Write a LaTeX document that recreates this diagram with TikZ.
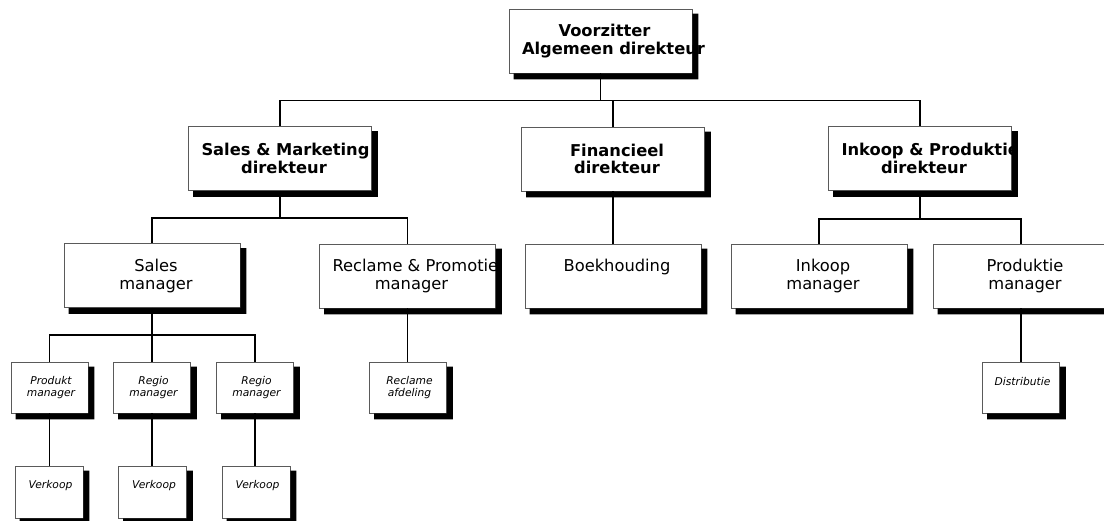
\documentclass[tikz,border=0pt]{standalone}
\usepackage{fontspec}
\setmainfont{DejaVu Sans}[BoldFont={DejaVu Sans Bold},ItalicFont={DejaVu Sans Oblique}]
\usepackage{xcolor}
\usepackage{tikz}
\definecolor{boxgray}{RGB}{90, 90, 90}
\hyphenpenalty=10000
\exhyphenpenalty=10000

\tikzset{
    textshift/.style={execute at begin node={\leftskip=#1 plus 1fil\rightskip=0pt plus 1fil}},
    orgbox/.style={draw=boxgray, fill=white, line width=0.8pt, inner ysep=0pt, inner xsep=5pt, align=flush center},
    dirbox/.style={orgbox, minimum width=183pt, minimum height=64pt, text width=173pt, textshift=8pt, font=\fontsize{16.3}{17.3}\selectfont\bfseries},
    mgrbox/.style={orgbox, minimum width=176pt, minimum height=64pt, text width=166pt, textshift=8pt, font=\fontsize{16.3}{18}\selectfont},
    unitbox/.style={orgbox, minimum width=77pt, minimum height=51pt, text width=67pt, textshift=3pt, font=\fontsize{10.7}{12.4}\selectfont\itshape},
    salesbox/.style={orgbox, minimum width=68pt, minimum height=52pt, text width=58pt, textshift=3pt, text depth=14.5pt, font=\fontsize{10.7}{12.4}\selectfont\itshape},
    conn/.style={line width=1.2pt}
}

\begin{document}
\begin{tikzpicture}[x=1pt, y=-1pt]
    \useasboundingbox (0,0) rectangle (1104,520);

    \node[dirbox] (top) at (600.5,41) {Voorzitter\\\mbox{Algemeen direkteur}};
    \node[dirbox] (sm) at (280,158.5) {\mbox{Sales \& Marketing}\\direkteur};
    \node[dirbox] (fin) at (613,159) {Financieel\\direkteur};
    \node[dirbox] (ip) at (920,158.5) {\mbox{Inkoop \& Produktie}\\direkteur};

    \node[mgrbox] (sales) at (152,275.5) {Sales\\manager};
    \node[mgrbox] (recl) at (407.5,276) {\mbox{Reclame \& Promotie}\\manager};
    \node[mgrbox, text depth=22pt] (boek) at (613,276) {Boekhouding};
    \node[mgrbox] (ink) at (819,276) {Inkoop\\manager};
    \node[mgrbox] (prod) at (1021,276) {Produktie\\manager};

    \node[unitbox] (pm) at (49.5,387.5) {Produkt\\manager};
    \node[unitbox] (rm1) at (152,387.5) {Regio\\manager};
    \node[unitbox] (rm2) at (255,387.5) {Regio\\manager};
    \node[unitbox] (rafd) at (408,387.5) {Reclame\\afdeling};
    \node[unitbox, text depth=13pt] (dist) at (1021,387.5) {Distributie};

    \node[salesbox] (vk1) at (49,492) {Verkoop};
    \node[salesbox] (vk2) at (152.5,492) {Verkoop};
    \node[salesbox] (vk3) at (256,492) {Verkoop};

    \draw[conn] (top.south) -- ++(0,27) coordinate (b1);
    \draw[conn] (sm.north) |- (b1) -| (ip.north);
    \draw[conn] (fin.north) -- (fin.north |- b1);
    \draw[conn] (sm.south) -- ++(0,27) coordinate (b2);
    \draw[conn] (sales.north) |- (b2) -| (recl.north);
    \draw[conn] (ip.south) -- ++(0,28) coordinate (b3);
    \draw[conn] (ink.north) |- (b3) -| (prod.north);
    \draw[conn] (sales.south) -- ++(0,27) coordinate (b4);
    \draw[conn] (pm.north) |- (b4) -| (rm2.north);
    \draw[conn] (rm1.north) -- (rm1.north |- b4);
    \draw[conn] (fin.south) -- (boek.north);
    \draw[conn] (recl.south) -- (recl.south |- rafd.north);
    \draw[conn] (prod.south) -- (dist.north);
    \foreach \a/\b in {pm/vk1, rm1/vk2, rm2/vk3}
        \draw[conn] (\a.south) -- (\a.south |- \b.north);

    \foreach \n in {top,sm,fin,ip,sales,recl,boek,ink,prod,pm,rm1,rm2,rafd,dist,vk1,vk2,vk3}
        \fill ([yshift=-5pt]\n.north east) -- ([shift={(6pt,-5pt)}]\n.north east) -- ([shift={(6pt,-6pt)}]\n.south east)
            -- ([shift={(5pt,-6pt)}]\n.south west) -- ([xshift=5pt]\n.south west) -- (\n.south east) -- cycle;
\end{tikzpicture}
\end{document}
